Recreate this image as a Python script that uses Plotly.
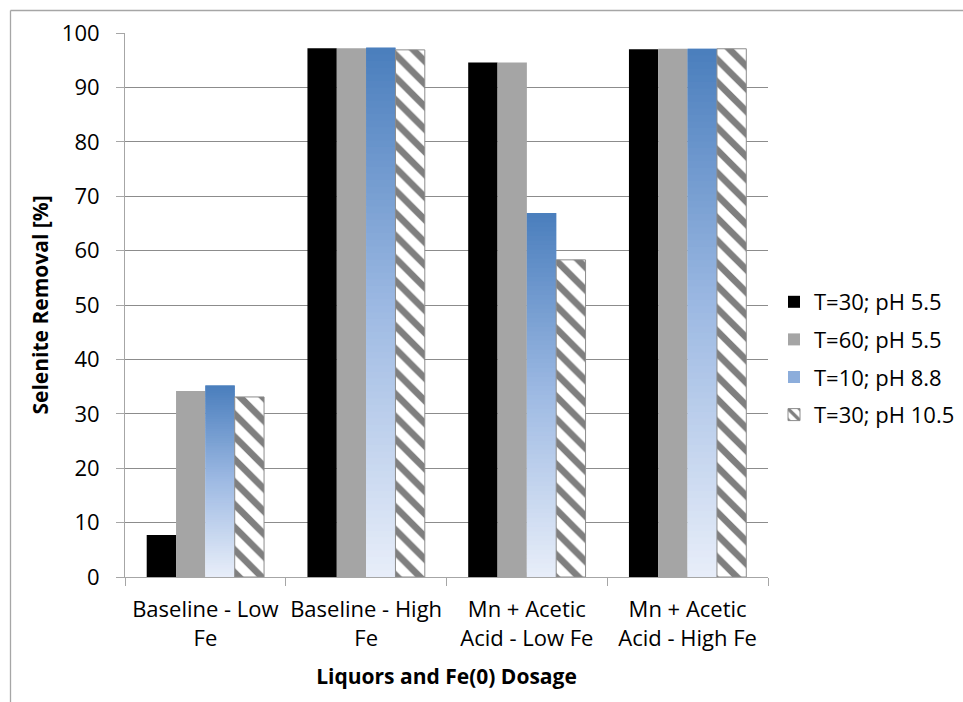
import plotly.graph_objects as go

categories = ["Baseline - Low<br>Fe", "Baseline - High<br>Fe",
              "Mn + Acetic<br>Acid - Low Fe", "Mn + Acetic<br>Acid - High Fe"]
series_names = ["T=30; pH 5.5", "T=60; pH 5.5", "T=10; pH 8.8", "T=30; pH 10.5"]
t30_ph55 = [7.7, 97.2, 94.6, 97.0]
t60_ph55 = [34.2, 97.2, 94.6, 97.1]
t10_ph88 = [35.2, 97.3, 66.9, 97.1]
t30_ph105 = [33.1, 96.9, 58.3, 97.1]
y_ticks = [0, 10, 20, 30, 40, 50, 60, 70, 80, 90, 100]

FONT = "Open Sans"
FS = 22

fig = go.Figure()

fig.add_trace(go.Bar(x=categories, y=t30_ph55, name=series_names[0],
                     marker=dict(color="#000000", line=dict(width=0)),
                     offsetgroup="a", legendgroup="a"))
fig.add_trace(go.Bar(x=categories, y=t60_ph55, name=series_names[1],
                     marker=dict(color="#A5A5A5", line=dict(width=0)),
                     offsetgroup="b", legendgroup="b"))

# gradient bars: stacked slices of each bar, top dark -> bottom light
stops = [(0.0, (74, 126, 189)), (0.5, (158, 186, 227)), (1.0, (232, 238, 249))]


def grad_color(t):
    for (p0, c0), (p1, c1) in zip(stops[:-1], stops[1:]):
        if t <= p1:
            f = (t - p0) / (p1 - p0)
            return "rgb(%d,%d,%d)" % tuple(round(a + (b - a) * f) for a, b in zip(c0, c1))
    return "rgb(%d,%d,%d)" % stops[-1][1]


N = 80
for k in range(N):
    frac_bottom = k / N
    t_from_top = 1 - (k + 0.5) / N
    base = [v * frac_bottom for v in t10_ph88]
    h = [min(2 * v / N, v - b) for v, b in zip(t10_ph88, base)]
    fig.add_trace(go.Bar(x=categories, y=h, base=base, name=series_names[2],
                         marker=dict(color=grad_color(t_from_top), line=dict(width=0)),
                         offsetgroup="c", legendgroup="c",
                         showlegend=(k == int(N * 0.6)), hoverinfo="skip"))

fig.add_trace(go.Bar(x=categories, y=t30_ph105, name=series_names[3],
                     marker=dict(color="white",
                                 line=dict(color="#8C8C8C", width=1),
                                 pattern=dict(shape="\\", fgcolor="#7F7F7F", bgcolor="white",
                                              size=16, solidity=0.42, fillmode="replace")),
                     offsetgroup="d", legendgroup="d"))

# outer chart border
px_l, px_r, px_t, px_b = 125, 768, 33, 577
W, H = 963, 702


def px2paper_x(px):
    return (px - px_l) / (px_r - px_l)


def px2paper_y(py):
    return (px_b - py) / (px_b - px_t)


fig.add_shape(type="line", xref="paper", yref="paper",
              x0=px2paper_x(10.5), x1=px2paper_x(10.5), y0=px2paper_y(10.5), y1=px2paper_y(720),
              line=dict(color="#A6A6A6", width=1.3), layer="below")
fig.add_shape(type="line", xref="paper", yref="paper",
              x0=px2paper_x(10.5), x1=px2paper_x(1000), y0=px2paper_y(10.5), y1=px2paper_y(10.5),
              line=dict(color="#A6A6A6", width=1.3), layer="below")

fig.update_layout(
    width=W, height=H,
    margin=dict(l=px_l, r=W - px_r, t=px_t, b=H - px_b, pad=0, autoexpand=False),
    paper_bgcolor="white", plot_bgcolor="white",
    font=dict(family=FONT, size=FS, color="#000000"),
    barmode="group", bargap=0.27, bargroupgap=0,
    showlegend=True,
    legend=dict(x=px2paper_x(774), y=px2paper_y(281), xanchor="left", yanchor="top",
                traceorder="grouped", tracegroupgap=6,
                font=dict(family=FONT, size=FS), bgcolor="rgba(0,0,0,0)",
                itemwidth=30),
)

fig.update_xaxes(
    type="category", tickson="boundaries", ticks="outside", ticklen=8, tickangle=0,
    tickcolor="#A6A6A6", showline=True, linecolor="#A6A6A6", linewidth=1,
    showgrid=False, tickfont=dict(family=FONT, size=FS), ticklabelstandoff=13,
    title=dict(text="<b>Liquors and Fe(0) Dosage</b>", standoff=18,
               font=dict(family=FONT, size=FS - 1)),
)
fig.update_yaxes(
    range=[0, 100], tickvals=y_ticks, ticks="outside", ticklen=8,
    tickcolor="#A6A6A6", showline=True, linecolor="#A6A6A6", linewidth=1,
    showgrid=True, gridcolor="#8C8C8C", gridwidth=1, zeroline=False,
    tickfont=dict(family=FONT, size=FS), ticklabelstandoff=12,
    title=dict(text="<b>Selenite Removal [%]</b>", standoff=7,
               font=dict(family=FONT, size=FS - 1)),
)

fig.write_html("out.html")
